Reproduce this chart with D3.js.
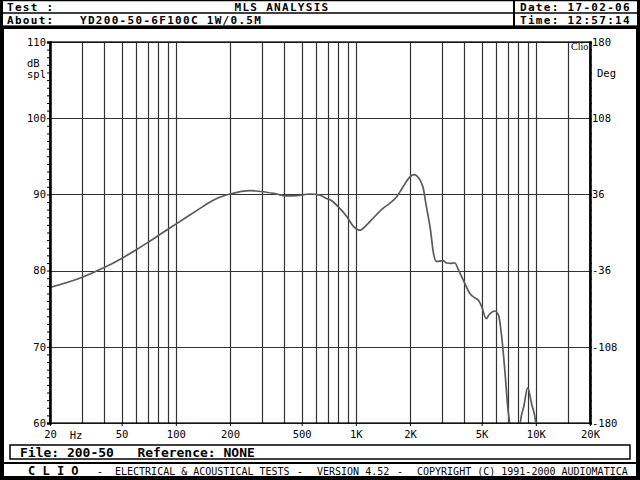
<!DOCTYPE html>
<html><head><meta charset="utf-8">
<script src="https://cdn.jsdelivr.net/npm/d3@7"></script>
<style>html,body{margin:0;padding:0;background:#fff}svg{display:block}</style>
</head><body>
<svg id="c" width="640" height="480"></svg>
<script>
// ---- data ----
const freqHz = [20,30,40,50,60,70,80,90,100,135,150,170,200,258,306,362,411,470,557,630,690,720,800,890,970,1050,1150,1250,1420,1540,1700,1830,2000,2100,2270,2370,2450,2600,2700,2800,3050,3200,3350,3550,3700,3800,4000,4300,4600,4800,5000,5300,5500,5900,6200,6450,6750,7000,7150,7500,7900,8200,8600,9000,9500,10000,10400];
const splDb  = [77.8,79.1,80.4,81.6,82.7,83.7,84.6,85.4,86.1,88.1,88.8,89.5,90.05,90.5,90.35,90.05,89.8,89.85,90.05,89.9,89.45,89.3,88.35,87.1,85.8,85.3,86.0,86.9,88.2,88.8,89.8,91.0,92.3,92.6,91.9,90.8,88.8,85.3,82.3,81.2,81.3,81.0,80.95,81.0,80.2,79.6,78.5,77.0,76.4,76.1,75.3,73.7,74.2,74.7,74.2,71.5,66.5,61.8,60.0,53,53,60.0,62.3,64.6,62.4,60.0,55];
const yTicksDb = [60,70,80,90,100,110];
const degLabels = ["-180","-108","-36","36","108","180"];
const xGridHz = [20,30,40,50,60,70,80,90,100,200,300,400,500,600,700,800,900,1000,2000,3000,4000,5000,6000,7000,8000,9000,10000,15000,20000];
const xLabelHz = [20,50,100,200,500,1000,2000,5000,10000,20000];
const xLabelText = ["20","50","100","200","500","1K","2K","5K","10K","20K"];

const svg = d3.select("#c");
const L=50,R=590,T=42,B=423;
const x = d3.scaleLog().domain([20,20000]).range([L,R]);
const y = d3.scaleLinear().domain([60,110]).range([B,T]);
const mono = "'DejaVu Sans Mono','Liberation Mono',monospace";

// ---- frame / header ----
svg.append("rect").attr("x",0).attr("y",0).attr("width",640).attr("height",480).attr("fill","#fff");
svg.append("rect").attr("x",2).attr("y",27).attr("width",636).attr("height",451).attr("fill","none").attr("stroke","#000").attr("stroke-width",4);
const hdr = svg.append("g");
hdr.append("rect").attr("x",1).attr("y",0.5).attr("width",638).attr("height",26).attr("fill","#fff").attr("stroke","#000").attr("stroke-width",1.5);
hdr.append("line").attr("x1",1).attr("x2",639).attr("y1",13).attr("y2",13).attr("stroke","#000").attr("stroke-width",1.5);
hdr.append("line").attr("x1",514).attr("x2",514).attr("y1",0).attr("y2",27).attr("stroke","#000").attr("stroke-width",2);
hdr.append("line").attr("x1",0).attr("x2",640).attr("y1",27).attr("y2",27).attr("stroke","#000").attr("stroke-width",3);
hdr.append("rect").attr("x",0).attr("y",0).attr("width",3).attr("height",480).attr("fill","#000");
hdr.append("rect").attr("x",637).attr("y",0).attr("width",3).attr("height",480).attr("fill","#000");
const ht = (t,xx,yy,anchor="start") => hdr.append("text").attr("x",xx).attr("y",yy).attr("text-anchor",anchor)
   .attr("font-family",mono).attr("font-size",11).attr("letter-spacing",1.3).attr("font-weight","bold").attr("fill","#000").text(t);
ht("Test :",7,10.5); ht("MLS ANALYSIS",282,10.5,"middle");
ht("About:",7,23.5); ht("YD200-50-6F100C 1W/0.5M",80,23.5);
ht("Date: 17-02-06",520,10.5); ht("Time: 12:57:14",520,23.5);

// ---- grid ----
const g = svg.append("g");
g.selectAll("line.v").data(xGridHz).join("line").attr("class","v")
  .attr("x1",d=>Math.round(x(d))+0.5).attr("x2",d=>Math.round(x(d))+0.5).attr("y1",T).attr("y2",B)
  .attr("stroke","#333").attr("stroke-width",1.2);
g.selectAll("line.h").data(yTicksDb).join("line").attr("class","h")
  .attr("x1",L).attr("x2",R).attr("y1",d=>Math.round(y(d))+0.5).attr("y2",d=>Math.round(y(d))+0.5)
  .attr("stroke","#333").attr("stroke-width",1.2);
g.append("rect").attr("x",L).attr("y",T).attr("width",R-L).attr("height",B-T).attr("fill","none").attr("stroke","#000").attr("stroke-width",1.2);

// ---- curve ----
svg.append("clipPath").attr("id","clip").append("rect").attr("x",L).attr("y",T).attr("width",R-L).attr("height",B-T);
const pts = freqHz.map((f,i)=>[f,splDb[i]]);
svg.append("path").datum(pts).attr("clip-path","url(#clip)")
  .attr("d",d3.line().x(d=>x(d[0])).y(d=>y(d[1])).curve(d3.curveMonotoneX))
  .attr("fill","none").attr("stroke","#5a5a5a").attr("stroke-width",1.7);

// ---- axes ----
const minor = d3.range(60,111,1);
const fontAx = "'DejaVu Sans Mono',monospace";
const la = svg.append("g").attr("transform",`translate(${L},0)`)
  .call(d3.axisLeft(y).tickValues(minor).tickSize(3).tickPadding(1).tickFormat(d=>d%10===0?d:""));
const degScale = d3.scaleOrdinal().domain(yTicksDb).range(degLabels);
const ra = svg.append("g").attr("transform",`translate(${R},0)`)
  .call(d3.axisRight(y).tickValues(minor).tickSize(2).tickPadding(1).tickFormat(d=>d%10===0?degScale(d):""));
[la,ra].forEach(a=>{
  a.select(".domain").attr("stroke","#000").attr("stroke-width",2.5);
  a.selectAll(".tick line").attr("stroke","#000");
  a.selectAll("text").attr("font-family",fontAx).attr("font-size",10.5).attr("fill","#000");
});
ra.selectAll("text").attr("dx",-1);
const ba = svg.append("g").attr("transform",`translate(0,${B})`)
  .call(d3.axisBottom(x).tickValues(xLabelHz).tickSize(3).tickPadding(5).tickFormat((d,i)=>xLabelText[i]));
ba.select(".domain").remove();
ba.selectAll(".tick line").attr("stroke","#000");
ba.selectAll("text").attr("font-family",fontAx).attr("font-size",10.5).attr("fill","#000");

const lt = (t,xx,yy,anchor="start",fam=fontAx,size=10.5) => svg.append("text").attr("x",xx).attr("y",yy)
   .attr("text-anchor",anchor).attr("font-family",fam).attr("font-size",size).attr("fill","#000").text(t);
lt("Hz",76,439,"middle");
lt("dB",27,67); lt("spl",27,78);
lt("Deg",597,77);
lt("Clio",571,50,"start","'Liberation Serif','DejaVu Serif',serif",10);

// ---- footer ----
svg.append("rect").attr("x",10).attr("y",445).attr("width",620).attr("height",14).attr("fill","none").attr("stroke","#000").attr("stroke-width",1.5);
svg.append("text").attr("x",20).attr("y",456.5).attr("font-family",mono).attr("font-size",13).attr("font-weight","bold")
  .style("white-space","pre").text("File: 200-50   Reference: NONE");
svg.append("line").attr("x1",0).attr("x2",640).attr("y1",463).attr("y2",463).attr("stroke","#000").attr("stroke-width",2);
svg.append("rect").attr("x",0).attr("y",477).attr("width",640).attr("height",3).attr("fill","#000");
svg.append("text").attr("x",28).attr("y",475).attr("font-family",mono).attr("font-size",12).attr("font-weight","bold").style("white-space","pre").text("C L I O");
const ft = (t,xx) => svg.append("text").attr("x",xx).attr("y",475).attr("font-family",mono).attr("font-size",10).attr("fill","#000").style("white-space","pre").text(t);
ft("-",97); ft("ELECTRICAL & ACOUSTICAL TESTS",115); ft("-",297); ft("VERSION 4.52",317); ft("-",397); ft("COPYRIGHT (C) 1991-2000 AUDIOMATICA",417);
</script>
</body></html>
